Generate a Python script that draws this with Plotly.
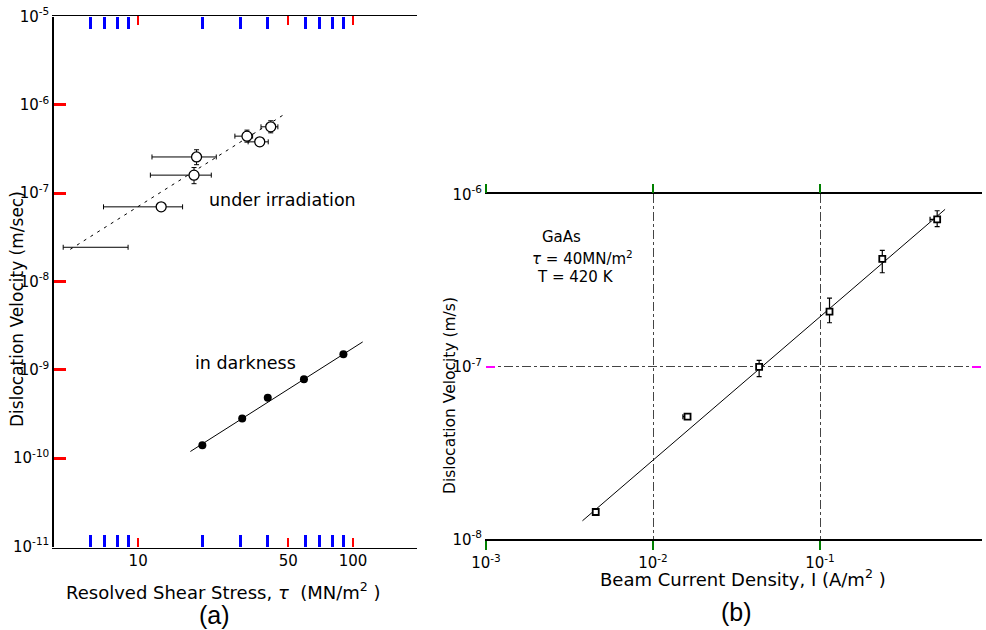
import math
import plotly.graph_objects as go

W, H = 986, 630

# ---------------- Panel (a) data ----------------
irr_stress = [12.8, 18.2, 18.7, 32.1, 36.8, 41.4]
irr_stress_lo = [6.9, 11.4, 11.6, 28.2, 32.5, 37.3]
irr_stress_hi = [16.1, 21.9, 23.1, 34.1, 40.3, 44.7]
irr_vel = [7.0e-8, 1.60e-7, 2.57e-7, 4.42e-7, 3.81e-7, 5.64e-7]
irr_vel_lo = [7.0e-8, 1.28e-7, 2.10e-7, 3.78e-7, 3.43e-7, 4.82e-7]
irr_vel_hi = [7.0e-8, 1.95e-7, 3.10e-7, 5.17e-7, 4.23e-7, 6.60e-7]

irr0_stress = [6.34]
irr0_lo = [4.48]
irr0_hi = [8.98]
irr0_vel = [2.44e-8]

irr_fit_x = [4.83, 47.2]
irr_fit_y = [2.31e-8, 7.64e-7]

dark_stress = [19.9, 30.5, 40.1, 59.1, 90.2]
dark_vel = [1.40e-10, 2.81e-10, 4.82e-10, 7.82e-10, 1.50e-9]
dark_fit_x = [17.5, 110.9]
dark_fit_y = [1.19e-10, 2.07e-9]

a_xticks = [10, 50, 100]
a_xticklabels = ["10", "50", "100"]
a_xminor = [6, 7, 8, 9, 20, 30, 40, 60, 70, 80, 90]
a_yexp = [-11, -10, -9, -8, -7, -6, -5]

beam = [4.54e-3, 1.61e-2, 4.32e-2, 0.114, 0.236, 0.503]
beam_lo = [4.54e-3, 1.51e-2, 4.32e-2, 0.114, 0.236, 0.456]
beam_hi = [4.54e-3, 1.63e-2, 4.32e-2, 0.114, 0.236, 0.52]
vel_b = [1.44e-8, 5.14e-8, 1.00e-7, 2.09e-7, 4.22e-7, 7.16e-7]
vel_b_lo = [1.44e-8, 5.14e-8, 8.77e-8, 1.80e-7, 3.51e-7, 6.49e-7]
vel_b_hi = [1.44e-8, 5.14e-8, 1.09e-7, 2.50e-7, 4.73e-7, 8.03e-7]
beam_fit_x = [3.78e-3, 0.561]
beam_fit_y = [1.28e-8, 8.18e-7]

b_xexp = [-3, -2, -1]
b_yexp = [-8, -7, -6]
minor_mult = [2, 3, 4, 5, 6, 7, 8, 9]


def errs(c, lo, hi):
    return [h - v for v, h in zip(c, hi)], [v - l for v, l in zip(c, lo)]


FONT = "DejaVu Sans"
FONT2 = "Liberation Sans"
fig = go.Figure()

fig.add_trace(go.Scatter(x=irr_fit_x, y=irr_fit_y, mode="lines",
                         line=dict(color="black", width=1, dash="3px,5px"),
                         xaxis="x", yaxis="y", hoverinfo="skip"))
ex_p, ex_m = errs(irr_stress, irr_stress_lo, irr_stress_hi)
ey_p, ey_m = errs(irr_vel, irr_vel_lo, irr_vel_hi)
fig.add_trace(go.Scatter(
    x=irr_stress, y=irr_vel, mode="markers",
    marker=dict(symbol="circle", size=10, color="white", line=dict(color="black", width=1.3)),
    error_x=dict(type="data", symmetric=False, array=ex_p, arrayminus=ex_m,
                 color="black", thickness=1, width=2.5),
    error_y=dict(type="data", symmetric=False, array=ey_p, arrayminus=ey_m,
                 color="black", thickness=1, width=2.5),
    xaxis="x", yaxis="y"))
e0p, e0m = errs(irr0_stress, irr0_lo, irr0_hi)
fig.add_trace(go.Scatter(
    x=irr0_stress, y=irr0_vel, mode="markers",
    marker=dict(size=1, color="rgba(0,0,0,0)"),
    error_x=dict(type="data", symmetric=False, array=e0p, arrayminus=e0m,
                 color="black", thickness=1, width=2.5),
    xaxis="x", yaxis="y"))
fig.add_trace(go.Scatter(x=dark_fit_x, y=dark_fit_y, mode="lines",
                         line=dict(color="black", width=1),
                         xaxis="x", yaxis="y", hoverinfo="skip"))
fig.add_trace(go.Scatter(x=dark_stress, y=dark_vel, mode="markers",
                         marker=dict(symbol="circle", size=8, color="black"),
                         xaxis="x", yaxis="y"))

fig.add_trace(go.Scatter(x=beam_fit_x, y=beam_fit_y, mode="lines",
                         line=dict(color="black", width=1),
                         xaxis="x2", yaxis="y2", hoverinfo="skip"))
bx_p, bx_m = errs(beam, beam_lo, beam_hi)
by_p, by_m = errs(vel_b, vel_b_lo, vel_b_hi)
fig.add_trace(go.Scatter(
    x=beam, y=vel_b, mode="markers",
    marker=dict(symbol="square", size=6, color="white", line=dict(color="black", width=1.8)),
    error_x=dict(type="data", symmetric=False, array=bx_p, arrayminus=bx_m,
                 color="black", thickness=1.2, width=2.5),
    error_y=dict(type="data", symmetric=False, array=by_p, arrayminus=by_m,
                 color="black", thickness=1.2, width=2.5),
    xaxis="x2", yaxis="y2"))

sup = lambda e: "10<sup>%d</sup>" % e
tf = dict(family=FONT, size=15, color="black")
a_xrange = [math.log10(4.06), 2.2953]
b_xrange = [-3, -0.036]

fig.update_layout(
    width=W, height=H, margin=dict(l=0, r=0, t=0, b=0, pad=0, autoexpand=False),
    paper_bgcolor="white", plot_bgcolor="white", showlegend=False,
    font=dict(family=FONT, color="black"),
    # variant A: same as before but red ticks
    xaxis=dict(type="log", showline=True, linecolor="black", linewidth=1.5, mirror="ticks",
               ticks="inside", tickcolor="red", tickwidth=1.5, ticklen=9, zeroline=False,
               tickfont=tf, domain=[54 / W, 416.5 / W], anchor="y", range=a_xrange,
               tickvals=a_xticks, ticktext=a_xticklabels, showgrid=False),
    # variant B: blue minor overlay, width 3
    xaxis3=dict(type="log", overlaying="x", anchor="y", range=a_xrange, mirror="ticks",
                ticks="inside", tickcolor="blue", tickwidth=3, ticklen=12, showline=True,
                showgrid=False, showticklabels=False, tickvals=a_xminor),
    # variant C: red, width 3, no mirror
    yaxis=dict(type="log", showline=True, linecolor="black", linewidth=1.5,
               ticks="inside", tickcolor="red", tickwidth=3, ticklen=12, zeroline=False,
               tickfont=tf, domain=[1 - 546.5 / H, 1 - 16.5 / H], anchor="x",
               range=[-11, -5], showgrid=False,
               tickvals=[10 ** e for e in a_yexp], ticktext=[sup(e) for e in a_yexp]),
    # variant D: outside ticks
    xaxis2=dict(type="log", showline=True, linecolor="black", linewidth=1.5, mirror="ticks",
                ticks="outside", tickcolor="green", tickwidth=2, ticklen=9, zeroline=False,
                tickfont=tf, domain=[486 / W, 981 / W], anchor="y2", range=b_xrange,
                tickvals=[10 ** e for e in b_xexp], ticktext=[sup(e) for e in b_xexp],
                showgrid=True, gridcolor="#444", gridwidth=1, griddash="dashdot"),
    # variant E: defaults except inside
    yaxis2=dict(type="log", showline=True, mirror="ticks", ticks="inside", ticklen=9,
                tickcolor="magenta", tickwidth=2,
                tickfont=tf, domain=[1 - 539.3 / H, 1 - 194.3 / H], anchor="x2",
                range=[-8, -6],
                tickvals=[10 ** e for e in b_yexp], ticktext=[sup(e) for e in b_yexp],
                showgrid=True, gridcolor="#444", gridwidth=1, griddash="dashdot"),
)

fig.add_trace(go.Scatter(x=[10], y=[1e-8], xaxis="x3", yaxis="y", mode="markers",
                         marker=dict(size=1, color="rgba(0,0,0,0)"), hoverinfo="skip"))


def ann(text, px, py, size=15, angle=0, xanchor="center", family=FONT):
    fig.add_annotation(text=text, x=px / W, y=1 - py / H, xref="paper", yref="paper",
                       showarrow=False, textangle=angle, xanchor=xanchor, yanchor="middle",
                       font=dict(family=family, size=size, color="black"))


ann("under irradiation", 282, 200, 17.5)
ann("in darkness", 245.5, 363, 17.5)
ann("Dislocation Velocity (m/sec)", 17, 309, 17, -90)
ann("Resolved Shear Stress, <i>τ</i>  (MN/m<sup>2</sup> )", 223.5, 591, 18)
ann("(a)", 214, 615, 25, family=FONT2)
ann("GaAs", 540, 237, 15, xanchor="left")
ann("<i>τ</i> = 40MN/m<sup>2</sup>", 530, 258, 15, xanchor="left")
ann("T = 420 K", 535, 277, 15, xanchor="left")
ann("Dislocation Velocity (m/s)", 450, 396, 15.5, -90)
ann("Beam Current Density, I (A/m<sup>2</sup> )", 743, 578, 18)
ann("(b)", 736, 612, 25, family=FONT2)

fig.write_html("out.html")
